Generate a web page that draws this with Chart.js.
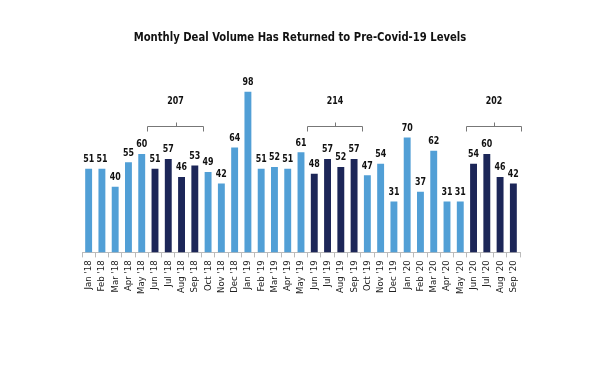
<!DOCTYPE html>
<html>
<head>
<meta charset="utf-8">
<script src="https://cdn.jsdelivr.net/npm/chart.js@4/dist/chart.umd.min.js"></script>
<style>
  html, body { margin: 0; padding: 0; background: #fff; }
  #wrap { width: 600px; height: 392px; }
</style>
</head>
<body>
<div id="wrap"><canvas id="chartCanvas"></canvas></div>
<script>
const months = ["Jan '18","Feb '18","Mar '18","Apr '18","May '18","Jun '18","Jul '18","Aug '18","Sep '18","Oct '18","Nov '18","Dec '18",
  "Jan '19","Feb '19","Mar '19","Apr '19","May '19","Jun '19","Jul '19","Aug '19","Sep '19","Oct '19","Nov '19","Dec '19",
  "Jan '20","Feb '20","Mar '20","Apr '20","May '20","Jun '20","Jul '20","Aug '20","Sep '20"];
const dealCounts = [51,51,40,55,60,51,57,46,53,49,42,64,98,51,52,51,61,48,57,52,57,47,54,31,70,37,62,31,31,54,60,46,42];
const groupStart = [5, 17, 29];
const groupEnd = [8, 20, 32];
const groupTotals = [207, 214, 202];
const titleText = 'Monthly Deal Volume Has Returned to Pre-Covid-19 Levels';

const lightBlue = '#519fd6';
const navy = '#1c2658';
const narrow = "'DejaVu Sans Condensed', 'Liberation Sans Narrow', sans-serif";

const inGroup = i => groupStart.some((s, g) => i >= s && i <= groupEnd[g]);
const barColors = dealCounts.map((v, i) => inGroup(i) ? navy : lightBlue);

// draw text squeezed horizontally, to mimic a condensed typeface
function narrowText(ctx, text, x, y, font, sx) {
  ctx.save();
  ctx.translate(x, y);
  ctx.scale(sx, 1);
  ctx.font = font;
  ctx.fillText(text, 0, 0);
  ctx.restore();
}

const annotations = {
  id: 'annotations',
  afterDatasetsDraw(chart) {
    const ctx = chart.ctx;
    const x = chart.scales.x, y = chart.scales.y;
    const meta = chart.getDatasetMeta(0);
    ctx.save();
    ctx.fillStyle = '#111';
    ctx.textAlign = 'center';
    ctx.textBaseline = 'middle';
    narrowText(ctx, titleText, chart.width / 2, 38, 'bold 13px ' + narrow, 0.86);

    ctx.textBaseline = 'bottom';
    const labelFont = 'bold 11px ' + narrow;
    meta.data.forEach((bar, i) => {
      narrowText(ctx, String(dealCounts[i]), bar.x, bar.y - 4, labelFont, 0.8);
    });
    // brackets over the summer months
    const step = x.getPixelForValue(1) - x.getPixelForValue(0);
    ctx.strokeStyle = '#777';
    ctx.lineWidth = 1;
    groupStart.forEach((s, g) => {
      const x0 = Math.round(x.getPixelForValue(s) - step * 0.58) + 0.5;
      const x1 = Math.round(x.getPixelForValue(groupEnd[g]) + step * 0.58) + 0.5;
      const by = Math.round(y.getPixelForValue(77)) + 0.5;
      const mid = Math.round((x0 + x1) / 2) + 0.5;
      ctx.beginPath();
      ctx.moveTo(x0, by + 5);
      ctx.lineTo(x0, by);
      ctx.lineTo(x1, by);
      ctx.lineTo(x1, by + 5);
      ctx.moveTo(mid, by);
      ctx.lineTo(mid, by - 4);
      ctx.stroke();
      ctx.textBaseline = 'middle';
      narrowText(ctx, String(groupTotals[g]), (x0 + x1) / 2, by - 25, labelFont, 0.8);
    });
    ctx.restore();
  }
};

const ctx = document.getElementById('chartCanvas').getContext('2d');
new Chart(ctx, {
  type: 'bar',
  data: {
    labels: months,
    datasets: [{
      data: dealCounts,
      backgroundColor: barColors,
      barPercentage: 0.52,
      categoryPercentage: 1.0
    }]
  },
  options: {
    responsive: true,
    maintainAspectRatio: false,
    animation: false,
    layout: { padding: { left: 82, right: 80, top: 72, bottom: 95 } },
    plugins: {
      legend: { display: false },
      tooltip: { enabled: false },
      title: { display: false }
    },
    scales: {
      x: {
        grid: { display: true, drawOnChartArea: false, drawTicks: true, tickLength: 5, color: '#bbb', offset: true },
        border: { display: true, color: '#bbb' },
        ticks: {
          minRotation: 90, maxRotation: 90, autoSkip: false, padding: 3,
          color: '#222',
          font: { family: narrow, size: 9.5 }
        }
      },
      y: {
        display: false,
        min: 0,
        max: 110
      }
    }
  },
  plugins: [annotations]
});
</script>
</body>
</html>
